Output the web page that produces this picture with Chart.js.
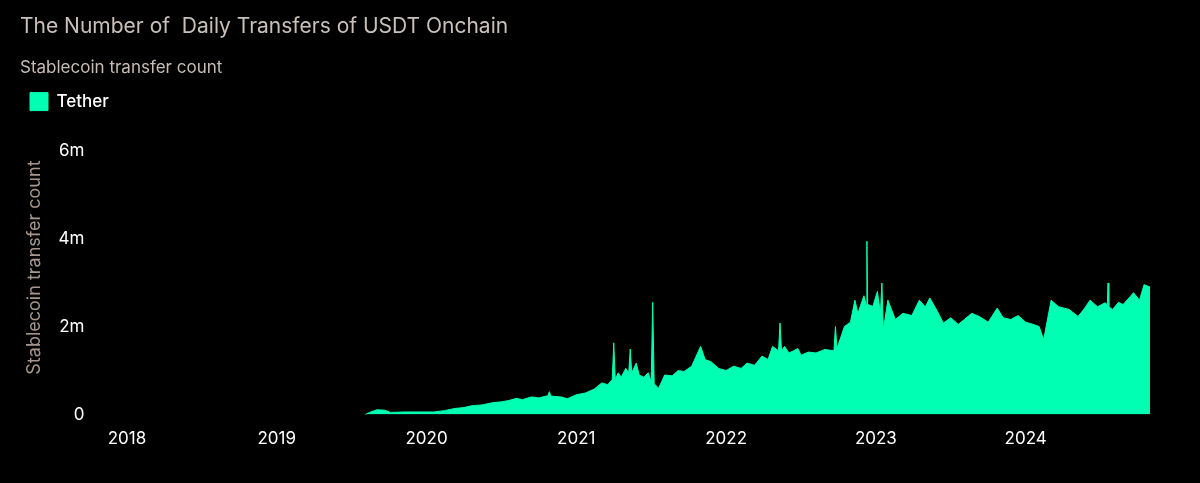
<!DOCTYPE html>
<html>
<head>
<meta charset="utf-8">
<script src="https://cdn.jsdelivr.net/npm/chart.js@4"></script>
<style>
  html, body { margin: 0; padding: 0; background: #000; }
  #wrap { width: 1200px; height: 483px; }
</style>
</head>
<body>
<div id="wrap"><canvas id="myChart" width="1200" height="483"></canvas></div>
<script>
// dates in decimal years, values in millions of transfers
const dates = [2019.59, 2019.62, 2019.67, 2019.72, 2019.76, 2019.85, 2020.05, 2020.12, 2020.19, 2020.25, 2020.30,
  2020.37, 2020.44, 2020.50, 2020.55, 2020.60, 2020.64, 2020.70, 2020.75, 2020.81, 2020.82, 2020.83, 2020.90,
  2020.94, 2021.0, 2021.06, 2021.12, 2021.17, 2021.21, 2021.24, 2021.25, 2021.26, 2021.28, 2021.30, 2021.33,
  2021.35, 2021.36, 2021.37, 2021.40, 2021.42, 2021.45, 2021.48, 2021.50, 2021.51, 2021.52, 2021.55, 2021.59,
  2021.64, 2021.68, 2021.72, 2021.77, 2021.83, 2021.86, 2021.90, 2021.95, 2022.0, 2022.05, 2022.10, 2022.14,
  2022.19, 2022.24, 2022.28, 2022.31, 2022.35, 2022.36, 2022.37, 2022.39, 2022.42, 2022.45, 2022.48, 2022.50,
  2022.55, 2022.60, 2022.66, 2022.72, 2022.73, 2022.74, 2022.79, 2022.83, 2022.86, 2022.88, 2022.92, 2022.935,
  2022.94, 2022.945, 2022.98, 2023.01, 2023.03, 2023.04, 2023.05, 2023.08, 2023.13, 2023.18, 2023.24, 2023.29,
  2023.33, 2023.36, 2023.41, 2023.45, 2023.50, 2023.55, 2023.59, 2023.64, 2023.69, 2023.75, 2023.81, 2023.85,
  2023.90, 2023.95, 2024.0, 2024.05, 2024.09, 2024.12, 2024.17, 2024.22, 2024.29, 2024.35, 2024.39, 2024.43,
  2024.48, 2024.53, 2024.545, 2024.55, 2024.555, 2024.58, 2024.62, 2024.65, 2024.69, 2024.72, 2024.76, 2024.79,
  2024.83];
const transfers = [0.0, 0.05, 0.11, 0.10, 0.05, 0.06, 0.06, 0.09, 0.14, 0.16, 0.20,
  0.22, 0.27, 0.29, 0.32, 0.37, 0.34, 0.40, 0.38, 0.43, 0.52, 0.42, 0.40,
  0.36, 0.45, 0.49, 0.58, 0.72, 0.68, 0.80, 1.63, 0.80, 0.95, 0.85, 1.05,
  0.95, 1.49, 0.95, 1.17, 0.90, 0.85, 0.95, 0.75, 2.55, 0.70, 0.60, 0.90,
  0.88, 1.00, 0.98, 1.10, 1.55, 1.25, 1.20, 1.05, 1.00, 1.10, 1.05, 1.17,
  1.12, 1.33, 1.25, 1.55, 1.45, 2.08, 1.45, 1.55, 1.40, 1.45, 1.50, 1.35,
  1.42, 1.40, 1.48, 1.45, 2.00, 1.50, 2.00, 2.10, 2.60, 2.30, 2.70, 2.50,
  3.94, 2.50, 2.46, 2.80, 2.30, 2.99, 1.93, 2.60, 2.16, 2.30, 2.25, 2.60,
  2.45, 2.65, 2.35, 2.08, 2.20, 2.05, 2.16, 2.30, 2.23, 2.10, 2.42, 2.20,
  2.16, 2.25, 2.10, 2.05, 2.00, 1.70, 2.60, 2.45, 2.39, 2.23, 2.40, 2.60,
  2.45, 2.54, 2.50, 2.99, 2.45, 2.39, 2.55, 2.50, 2.65, 2.77, 2.60, 2.95,
  2.90];
const yearTicks = [2018, 2019, 2020, 2021, 2022, 2023, 2024];
const valueTicks = [0, 2, 4, 6];

const points = dates.map((d, i) => ({ x: d, y: transfers[i] }));

Chart.defaults.font.family = 'Inter, "Noto Sans", sans-serif';

new Chart(document.getElementById('myChart').getContext('2d'), {
  type: 'line',
  data: {
    datasets: [{
      label: 'Tether',
      data: points,
      borderColor: '#00ffb2',
      backgroundColor: '#00ffb2',
      borderWidth: 1,
      fill: 'origin',
      pointRadius: 0,
      tension: 0
    }]
  },
  options: {
    responsive: false,
    animation: false,
    layout: { padding: { left: 20, right: 50, top: 14, bottom: 28 } },
    plugins: {
      title: {
        display: true, text: 'The Number of  Daily Transfers of USDT Onchain',
        align: 'start', color: '#c9c0bc', font: { size: 21, weight: 'normal' },
        padding: { top: 0, bottom: 18 }
      },
      subtitle: {
        display: true, text: 'Stablecoin transfer count',
        align: 'start', color: '#c9bdb6', font: { size: 17, weight: 'normal' },
        padding: { bottom: 5 }
      },
      legend: {
        align: 'start',
        labels: { color: '#ffffff', boxWidth: 18, boxHeight: 18, font: { size: 17, weight: '500' }, padding: 10 }
      },
      tooltip: { enabled: false }
    },
    scales: {
      x: {
        type: 'linear', min: 2017.83, max: 2024.83,
        afterBuildTicks: axis => { axis.ticks = yearTicks.map(v => ({ value: v })); },
        ticks: { color: '#ffffff', font: { size: 17 }, callback: v => String(v), padding: 6 },
        grid: { display: false }, border: { display: false }
      },
      y: {
        min: 0, max: 6.68,
        afterBuildTicks: axis => { axis.ticks = valueTicks.map(v => ({ value: v })); },
        ticks: { color: '#ffffff', font: { size: 17 }, callback: v => v === 0 ? '0' : v + 'm', padding: 9 },
        title: { display: true, text: 'Stablecoin transfer count', color: '#a8968c', font: { size: 18 } },
        grid: { display: false }, border: { display: false }
      }
    }
  }
});
</script>
</body>
</html>
